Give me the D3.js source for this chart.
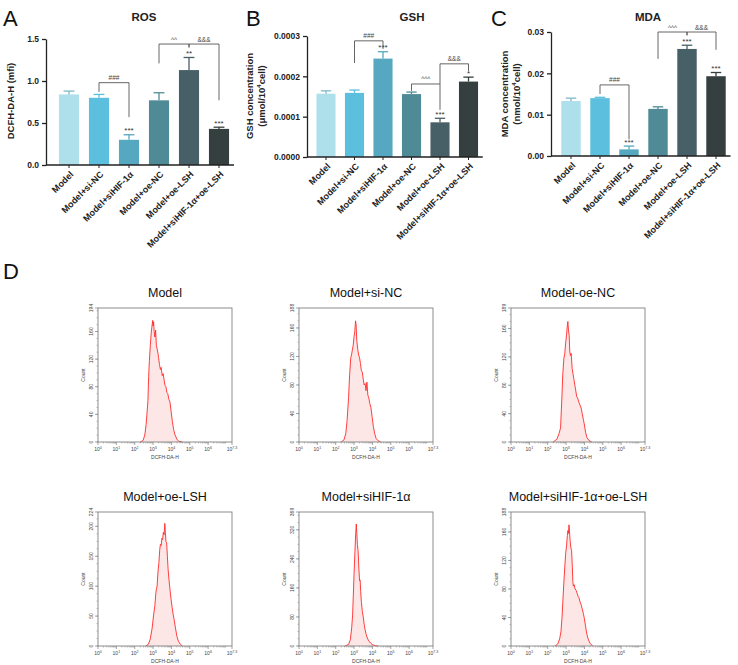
<!DOCTYPE html>
<html>
<head>
<meta charset="utf-8">
<script src="https://cdn.jsdelivr.net/npm/d3@7/dist/d3.min.js"></script>
<style>
  body { margin: 0; background: #fff; }
  svg { display: block; font-family: "Liberation Sans", Arial, sans-serif; }
</style>
</head>
<body>
<svg id="mainsvg" width="738" height="665"></svg>
<script>
// ---- data ----
const groups = ["Model", "Model+si-NC", "Model+siHIF-1α", "Model+oe-NC", "Model+oe-LSH", "Model+siHIF-1α+oe-LSH"];
const barColors = ["#aee0ec", "#5bbfdd", "#55a8bf", "#4f8b97", "#475f66", "#363f3f"];

const rosMean = [0.84, 0.80, 0.30, 0.77, 1.13, 0.43];
const rosErr = [0.04, 0.04, 0.06, 0.09, 0.15, 0.02];
const rosStars = ["", "", "***", "", "**", "***"];
// [from, to, level, left end, right end, label]
const rosBrackets = [[1, 2, 0.98, 0.87, 0.57, "###"], [3, 4, 1.44, 1.21, 1.40, "^^"], [4, 5, 1.44, 1.40, 0.77, "&&&"]];

const gshMean = [0.000157, 0.000159, 0.000244, 0.000156, 0.000086, 0.000187];
const gshErr = [0.000007, 0.000007, 0.000017, 0.000005, 0.000010, 0.000011];
const gshStars = ["", "", "***", "", "***", "*"];
const gshBrackets = [[1, 2, 0.000288, 0.000233, 0.000268, "###"], [3, 4, 0.000181, 0.000164, 0.000117, "^^^"], [4, 5, 0.000231, 0.000181, 0.000213, "&&&"]];

const mdaMean = [0.0133, 0.0140, 0.0016, 0.0114, 0.0259, 0.0193];
const mdaErr = [0.0007, 0.0002, 0.0008, 0.0005, 0.0009, 0.0009];
const mdaStars = ["", "", "***", "", "***", "***"];
const mdaBrackets = [[1, 2, 0.0172, 0.0150, 0.0040, "###"], [3, 4, 0.0300, 0.0235, 0.0292, "^^^"], [4, 5, 0.0300, 0.0292, 0.0257, "&&&"]];

// flow histograms: [log10 DCFH-DA-H, count]
const histTitles = ["Model", "Model+si-NC", "Model-oe-NC", "Model+oe-LSH", "Model+siHIF-1α", "Model+siHIF-1α+oe-LSH"];
const histMax = [194, 188, 189, 224, 369, 188];
const histStep = [40, 40, 40, 50, 80, 40];
const histModel = [[2.3,0],[2.45,2],[2.55,10],[2.62,25],[2.68,45],[2.72,60],[2.76,95],[2.8,118],[2.85,140],[2.9,158],[2.95,170],[2.98,176],[3.0,168],[3.03,174],[3.06,160],[3.1,152],[3.14,162],[3.18,140],[3.22,135],[3.27,128],[3.3,122],[3.35,112],[3.4,105],[3.44,108],[3.5,96],[3.55,99],[3.6,90],[3.65,82],[3.7,80],[3.75,72],[3.8,70],[3.86,62],[3.92,58],[3.98,45],[4.05,30],[4.12,18],[4.2,10],[4.3,4],[4.4,1],[4.6,0]];
const histSiNC = [[2.3,0],[2.45,3],[2.55,12],[2.62,30],[2.7,62],[2.76,95],[2.82,118],[2.86,122],[2.9,128],[2.95,135],[3.0,148],[3.04,155],[3.08,170],[3.11,165],[3.15,142],[3.2,130],[3.25,122],[3.3,118],[3.35,110],[3.4,100],[3.45,98],[3.5,88],[3.55,80],[3.6,82],[3.65,72],[3.7,84],[3.75,66],[3.8,62],[3.86,54],[3.92,48],[3.98,36],[4.05,22],[4.12,12],[4.2,5],[4.3,2],[4.45,0]];
const histOeNC = [[2.3,0],[2.5,4],[2.62,12],[2.7,20],[2.76,55],[2.82,95],[2.88,118],[2.93,125],[2.98,140],[3.03,152],[3.07,165],[3.1,170],[3.13,158],[3.17,150],[3.2,128],[3.24,122],[3.28,125],[3.33,104],[3.38,96],[3.43,88],[3.48,80],[3.53,72],[3.58,64],[3.63,62],[3.7,56],[3.76,52],[3.82,48],[3.88,40],[3.94,32],[4.0,24],[4.06,14],[4.14,6],[4.25,2],[4.4,0]];
const histOeLSH = [[2.6,0],[2.75,3],[2.85,12],[2.95,30],[3.03,52],[3.1,68],[3.15,88],[3.18,95],[3.22,100],[3.27,125],[3.32,140],[3.36,160],[3.4,170],[3.44,168],[3.48,180],[3.52,178],[3.56,190],[3.6,186],[3.64,205],[3.67,190],[3.7,175],[3.74,172],[3.78,150],[3.82,128],[3.87,110],[3.92,95],[3.98,78],[4.04,64],[4.1,52],[4.16,42],[4.22,30],[4.3,16],[4.38,8],[4.48,3],[4.6,0]];
const histSiHIF = [[2.5,0],[2.7,4],[2.8,18],[2.87,50],[2.92,85],[2.96,140],[3.0,200],[3.04,250],[3.08,300],[3.12,336],[3.15,310],[3.18,280],[3.22,262],[3.26,215],[3.3,180],[3.33,182],[3.36,150],[3.4,120],[3.45,95],[3.5,80],[3.55,60],[3.6,45],[3.66,32],[3.72,22],[3.8,14],[3.9,8],[4.0,4],[4.15,1],[4.3,0]];
const histCombo = [[2.4,0],[2.55,3],[2.65,10],[2.72,20],[2.78,40],[2.84,70],[2.89,94],[2.94,115],[2.98,130],[3.03,142],[3.07,155],[3.1,162],[3.13,158],[3.16,170],[3.19,160],[3.22,148],[3.26,138],[3.3,134],[3.34,112],[3.37,90],[3.4,84],[3.44,86],[3.49,80],[3.55,78],[3.6,74],[3.65,70],[3.7,68],[3.76,62],[3.82,58],[3.88,52],[3.94,46],[4.0,38],[4.06,28],[4.12,18],[4.2,10],[4.3,4],[4.45,0]];
const histData = [histModel, histSiNC, histOeNC, histOeLSH, histSiHIF, histCombo];
const decadeLabels = ["0", "1", "2", "3", "4", "5", "6", "7.3"];
const decadeValues = [0, 1, 2, 3, 4, 5, 6, 7.3];

// ---- drawing ----
const svg = d3.select('#mainsvg');

function letter(x, y, t) {
  svg.append('text').attr('x', x).attr('y', y).attr('font-size', 22).attr('fill', '#111').text(t);
}

function barPanel(cfg) {
  const g = svg.append('g');
  const x = d3.scaleBand().domain(groups).range(cfg.xr).paddingInner(0.33).paddingOuter(0.165);
  const y = d3.scaleLinear().domain(cfg.domain).range(cfg.yr);
  const ink = '#222';

  // bars
  g.selectAll('rect.bar').data(cfg.mean).join('rect')
    .attr('x', (d, i) => x(groups[i])).attr('width', x.bandwidth())
    .attr('y', d => y(d)).attr('height', d => y(0) - y(d))
    .attr('fill', (d, i) => barColors[i]);

  // error bars (upper only)
  const cap = x.bandwidth() * 0.27;
  cfg.mean.forEach((m, i) => {
    const cx = x(groups[i]) + x.bandwidth() / 2;
    const col = i === 0 ? '#7fb9c8' : barColors[i];
    g.append('line').attr('x1', cx).attr('x2', cx).attr('y1', y(m)).attr('y2', y(m + cfg.err[i]))
      .attr('stroke', col).attr('stroke-width', 1.3);
    g.append('line').attr('x1', cx - cap).attr('x2', cx + cap).attr('y1', y(m + cfg.err[i])).attr('y2', y(m + cfg.err[i]))
      .attr('stroke', col).attr('stroke-width', 1.3);
    if (cfg.stars[i]) {
      g.append('text').attr('x', cx).attr('y', y(m + cfg.err[i]) - 1.5)
        .attr('text-anchor', 'middle').attr('font-size', 8).attr('fill', '#333').text(cfg.stars[i]);
    }
  });

  // brackets
  cfg.brackets.forEach(b => {
    const x1 = x(groups[b[0]]) + x.bandwidth() / 2, x2 = x(groups[b[1]]) + x.bandwidth() / 2;
    g.append('path')
      .attr('d', `M${x1},${y(b[3])}V${y(b[2])}H${x2}V${y(b[4])}`)
      .attr('fill', 'none').attr('stroke', '#555').attr('stroke-width', 0.9);
    g.append('text').attr('x', (x1 + x2) / 2).attr('y', y(b[2]) - 2.5)
      .attr('text-anchor', 'middle').attr('font-size', 6.5).attr('fill', '#444').text(b[5]);
  });

  // axes
  const ya = g.append('g').attr('transform', `translate(${cfg.ax},0)`)
    .call(d3.axisLeft(y).tickValues(cfg.ticks).tickFormat(d3.format(cfg.fmt)).tickSize(4).tickSizeOuter(0));
  ya.select('.domain').attr('stroke', ink).attr('stroke-width', 1.3);
  ya.selectAll('.tick line').attr('stroke', ink).attr('stroke-width', 1.3);
  ya.selectAll('text').attr('font-size', 8.5).attr('font-weight', 'bold').attr('fill', ink)
    .attr('font-family', '"Liberation Sans", Arial, sans-serif');

  const xa = g.append('g').attr('transform', `translate(0,${y(0)})`)
    .call(d3.axisBottom(x).tickSize(3).tickSizeOuter(0));
  xa.select('.domain').attr('d', `M${cfg.ax},0H${cfg.xr[1]}`).attr('stroke', ink).attr('stroke-width', 1.3);
  xa.selectAll('.tick line').attr('stroke', ink).attr('stroke-width', 1);
  xa.selectAll('text').attr('y', 0).attr('dy', 0).attr('x', 0)
    .attr('transform', 'translate(5,10) rotate(-45)')
    .attr('text-anchor', 'end').attr('font-size', 9).attr('font-weight', 'bold').attr('fill', ink)
    .attr('font-family', '"Liberation Sans", Arial, sans-serif');

  // title
  g.append('text').attr('x', cfg.titleX).attr('y', 21).attr('text-anchor', 'middle')
    .attr('font-size', 11.5).attr('font-weight', 'bold').attr('fill', ink).text(cfg.title);

  // y label
  cfg.ylab.forEach((line, k) => {
    const t = g.append('text')
      .attr('transform', `translate(${cfg.ylabX[k]},${cfg.ylabY}) rotate(-90)`)
      .attr('text-anchor', 'middle').attr('font-size', 9.5).attr('font-weight', 'bold').attr('fill', ink);
    if (Array.isArray(line)) {
      t.append('tspan').text(line[0]);
      t.append('tspan').attr('font-size', 6).attr('dy', -4).text(line[1]);
      t.append('tspan').attr('dy', 4).text(line[2]);
    } else t.text(line);
  });
}

barPanel({
  mean: rosMean, err: rosErr, stars: rosStars, brackets: rosBrackets,
  xr: [54, 234], ax: 46, yr: [165, 39], domain: [0, 1.5], ticks: [0, 0.5, 1.0, 1.5], fmt: '.1f',
  title: 'ROS', titleX: 144, ylab: ['DCFH-DA-H (mfi)'], ylabX: [14], ylabY: 101
});
barPanel({
  mean: gshMean, err: gshErr, stars: gshStars, brackets: gshBrackets,
  xr: [311.75, 482.75], ax: 307, yr: [157, 36], domain: [0, 0.0003], ticks: [0, 0.0001, 0.0002, 0.0003], fmt: '.4f',
  title: 'GSH', titleX: 412, ylab: ['GSH concentration', ['(μmol/10', '4', 'cell)']], ylabX: [253, 265], ylabY: 96
});
barPanel({
  mean: mdaMean, err: mdaErr, stars: mdaStars, brackets: mdaBrackets,
  xr: [556.5, 730.5], ax: 551, yr: [156, 32], domain: [0, 0.03], ticks: [0, 0.01, 0.02, 0.03], fmt: '.2f',
  title: 'MDA', titleX: 648, ylab: ['MDA concentration', ['(nmol/10', '4', 'cell)']], ylabX: [508, 520], ylabY: 94
});

letter(3, 26, 'A');
letter(246, 26, 'B');
letter(491, 26, 'C');
letter(3, 279, 'D');

// ---- histograms ----
const boxSize = 134;
const colLeft = [98, 299, 511];
const rowTop = [308, 512];

histData.forEach((data, k) => {
  const left = colLeft[k % 3], top = rowTop[Math.floor(k / 3)];
  const g = svg.append('g').attr('transform', `translate(${left},${top})`);
  const x = d3.scaleLinear().domain([0, 7.3]).range([0, boxSize]);
  const y = d3.scaleLinear().domain([0, histMax[k]]).range([boxSize, 0]);
  const grey = '#808080';

  const area = d3.area().x(d => x(d[0])).y0(y(0)).y1(d => y(d[1]));
  g.append('path').datum(data).attr('d', area).attr('fill', '#fde6e6').attr('stroke', 'none');
  g.append('path').datum(data).attr('d', d3.line().x(d => x(d[0])).y(d => y(d[1])))
    .attr('fill', 'none').attr('stroke', '#ff2a2a').attr('stroke-width', 0.9);

  g.append('rect').attr('width', boxSize).attr('height', boxSize)
    .attr('fill', 'none').attr('stroke', grey).attr('stroke-width', 0.9);

  // x ticks: decades plus log minors
  const minors = [];
  for (let dec = 0; dec < 8; dec++) {
    for (let m = 2; m <= 9; m++) {
      const v = dec + Math.log10(m);
      if (v < 7.3) minors.push(v);
    }
  }
  g.selectAll('line.xmin').data(minors).join('line')
    .attr('x1', d => x(d)).attr('x2', d => x(d)).attr('y1', boxSize).attr('y2', boxSize + 1.5)
    .attr('stroke', grey).attr('stroke-width', 0.5);
  g.selectAll('line.xmaj').data(decadeValues).join('line')
    .attr('x1', d => x(d)).attr('x2', d => x(d)).attr('y1', boxSize).attr('y2', boxSize + 3)
    .attr('stroke', grey).attr('stroke-width', 0.7);
  decadeValues.forEach((v, i) => {
    const t = g.append('text').attr('x', x(v)).attr('y', boxSize + 8.5).attr('text-anchor', 'middle')
      .attr('font-size', 5).attr('fill', '#444');
    t.append('tspan').text('10');
    t.append('tspan').attr('font-size', 3.6).attr('dy', -2).text(decadeLabels[i]);
  });
  g.append('text').attr('x', boxSize / 2).attr('y', boxSize + 17).attr('text-anchor', 'middle')
    .attr('font-size', 5).attr('fill', '#444').text('DCFH-DA-H');

  // y ticks
  const step = histStep[k];
  const majors = d3.range(0, histMax[k] - step * 0.3, step);
  const yMinor = d3.range(0, histMax[k], step / 4);
  g.selectAll('line.ymin').data(yMinor).join('line')
    .attr('x1', -1.5).attr('x2', 0).attr('y1', d => y(d)).attr('y2', d => y(d))
    .attr('stroke', grey).attr('stroke-width', 0.5);
  g.selectAll('line.ymaj').data(majors.concat([histMax[k]])).join('line')
    .attr('x1', -3).attr('x2', 0).attr('y1', d => y(d)).attr('y2', d => y(d))
    .attr('stroke', grey).attr('stroke-width', 0.7);
  majors.concat([histMax[k]]).forEach(v => {
    g.append('text').attr('transform', `translate(-5,${y(v)}) rotate(-90)`)
      .attr('text-anchor', 'middle').attr('font-size', 5).attr('fill', '#444').text(v);
  });
  g.append('text').attr('transform', `translate(-13,${boxSize / 2}) rotate(-90)`)
    .attr('text-anchor', 'middle').attr('font-size', 5).attr('fill', '#444').text('Count');

  g.append('text').attr('x', boxSize / 2).attr('y', -11).attr('text-anchor', 'middle')
    .attr('font-size', 12.5).attr('fill', '#111').text(histTitles[k]);
});
</script>
</body>
</html>
